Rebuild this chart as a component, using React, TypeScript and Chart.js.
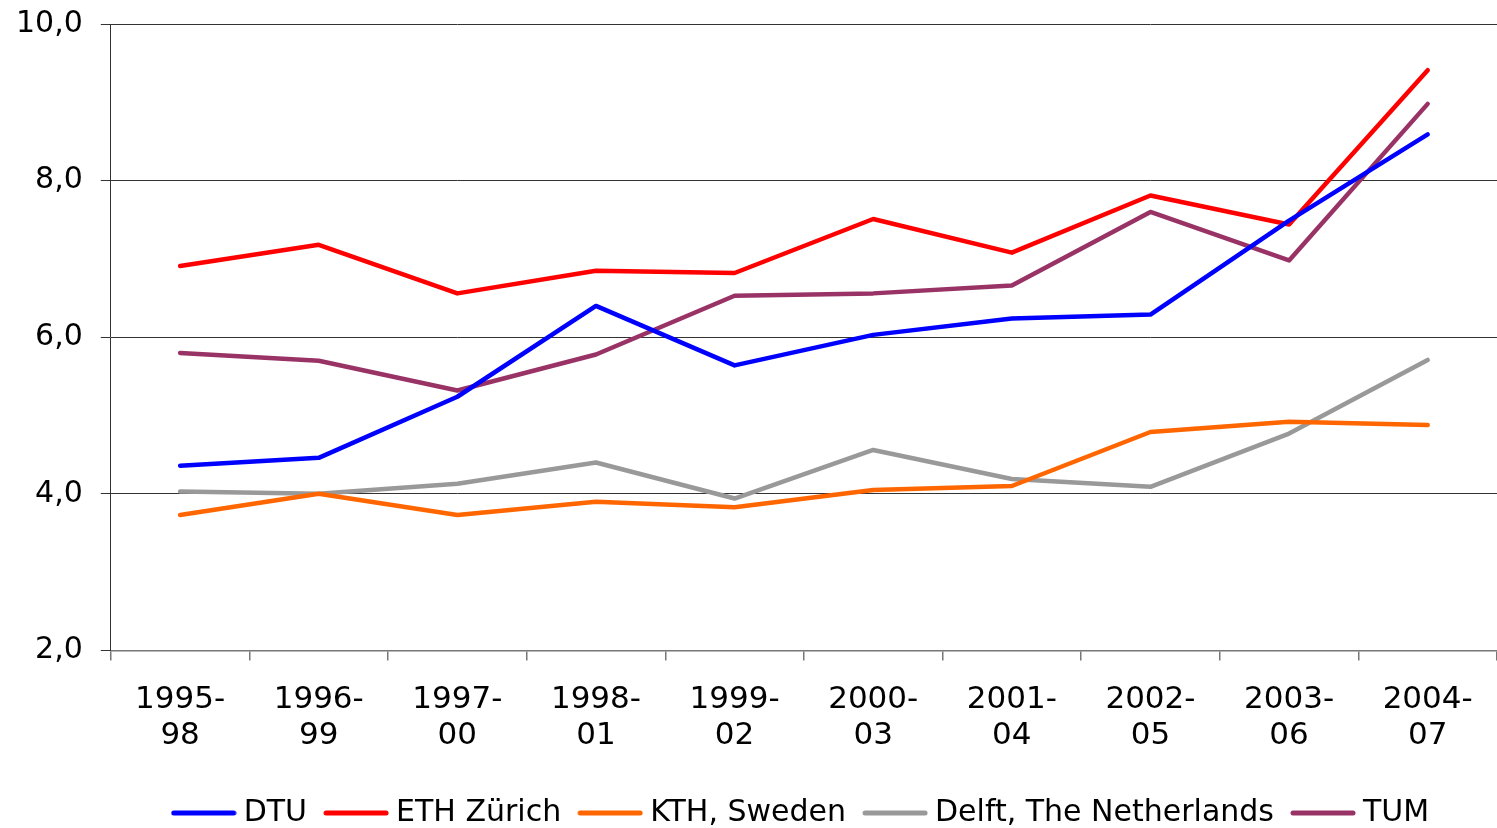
import React, { useEffect, useRef } from "react";
import { Chart, registerables } from "chart.js";

Chart.register(...registerables);

const categories: string[][] = [
  ["1995-", "98"], ["1996-", "99"], ["1997-", "00"], ["1998-", "01"], ["1999-", "02"],
  ["2000-", "03"], ["2001-", "04"], ["2002-", "05"], ["2003-", "06"], ["2004-", "07"],
];

const dtu = [4.36, 4.46, 5.24, 6.40, 5.64, 6.03, 6.24, 6.29, 7.49, 8.59];
const eth = [6.91, 7.18, 6.56, 6.85, 6.82, 7.51, 7.08, 7.81, 7.44, 9.41];
const kth = [3.73, 4.0, 3.73, 3.90, 3.83, 4.05, 4.10, 4.79, 4.92, 4.88];
const delft = [4.03, 4.0, 4.13, 4.40, 3.94, 4.56, 4.19, 4.09, 4.77, 5.71];
const tum = [5.80, 5.70, 5.32, 5.78, 6.53, 6.56, 6.66, 7.60, 6.98, 8.98];

const seriesNames = ["DTU", "ETH Zürich", "KTH, Sweden", "Delft, The Netherlands", "TUM"];
const seriesColors = ["#0000FF", "#FF0000", "#FF6600", "#999999", "#993366"];

const FONT = "'DejaVu Sans', Verdana, sans-serif";

function legendLine(color: string): HTMLCanvasElement {
  const c = document.createElement("canvas");
  c.width = 66;
  c.height = 8;
  const ctx = c.getContext("2d") as CanvasRenderingContext2D;
  ctx.strokeStyle = color;
  ctx.lineWidth = 5;
  ctx.lineCap = "round";
  ctx.beginPath();
  ctx.moveTo(3, 4);
  ctx.lineTo(63, 4);
  ctx.stroke();
  return c;
}

const centerLegendOnPlot = {
  id: "centerLegendOnPlot",
  afterLayout(chart: any) {
    const lg = chart.legend;
    if (!lg || !chart.chartArea) return;
    const d = (chart.chartArea.left + chart.chartArea.right) / 2 - (lg.left + lg.right) / 2;
    lg.left += d;
    lg.right += d;
  },
};

export default function App() {
  const ref = useRef<HTMLCanvasElement | null>(null);
  useEffect(() => {
    document.body.style.margin = "0";
    const values = [dtu, eth, kth, delft, tum];
    const chart = new Chart(ref.current as HTMLCanvasElement, {
      type: "line",
      data: {
        labels: categories,
        datasets: values.map((v, i) => ({
          label: seriesNames[i],
          data: v,
          borderColor: seriesColors[i],
          backgroundColor: seriesColors[i],
          borderWidth: 4.5,
          borderCapStyle: "round" as const,
          borderJoinStyle: "round" as const,
          pointRadius: 0,
          pointStyle: legendLine(seriesColors[i]) as any,
          tension: 0,
        })),
      },
      plugins: [centerLegendOnPlot],
      options: {
        animation: false,
        responsive: true,
        maintainAspectRatio: false,
        layout: { padding: { top: 0, right: 0, left: -2, bottom: -10 } },
        plugins: {
          tooltip: { enabled: false },
          legend: {
            position: "bottom",
            labels: {
              usePointStyle: true,
              pointStyleWidth: 50,
              boxHeight: 30,
              padding: 24,
              color: "#000",
              font: { family: FONT, size: 30 },
            },
          },
        },
        scales: {
          x: {
            offset: true,
            afterFit: (s: any) => {
              s.height -= 1;
            },
            grid: {
              offset: true,
              drawOnChartArea: false,
              drawTicks: true,
              tickLength: 10,
              color: "#777",
              lineWidth: 1.5,
            },
            border: { color: "#777", width: 1.5 },
            ticks: {
              color: "#000",
              padding: 21,
              maxRotation: 0,
              autoSkip: false,
              font: { family: FONT, size: 31, lineHeight: 1.17 },
            },
          },
          y: {
            min: 2,
            max: 10,
            afterFit: (s: any) => {
              s.paddingTop = 24;
              s.paddingBottom = 0;
            },
            grid: { color: "#333", lineWidth: 1, tickLength: 10 },
            border: { color: "#333", width: 1 },
            ticks: {
              stepSize: 2,
              color: "#000",
              padding: 18,
              font: { family: FONT, size: 30 },
              callback: (v: any) => Number(v).toFixed(1).replace(".", ","),
            },
          },
        },
      },
    });
    return () => chart.destroy();
  }, []);
  return (
    <div style={{ width: 1497, height: 828, position: "relative" }}>
      <canvas ref={ref} />
    </div>
  );
}
